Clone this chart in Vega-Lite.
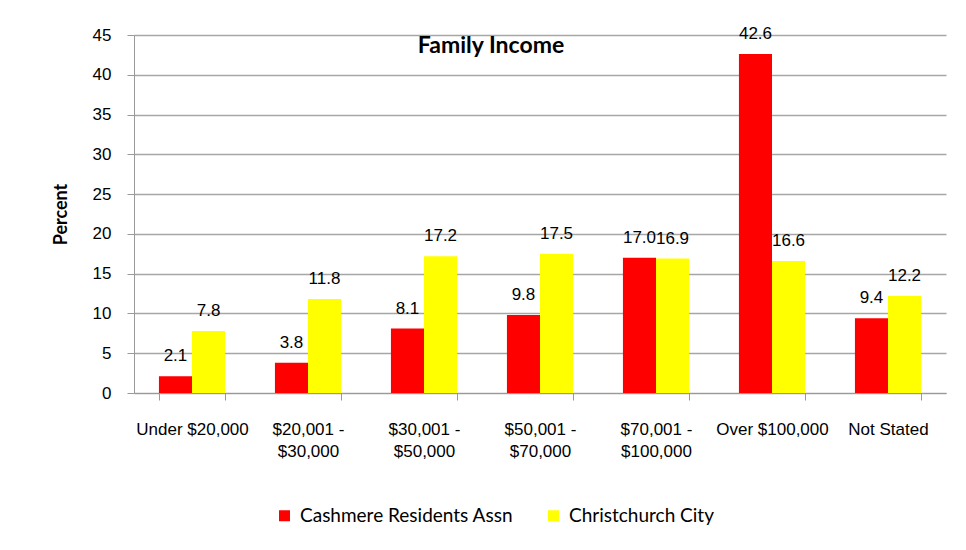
{
  "$schema": "https://vega.github.io/schema/vega-lite/v6.json",
  "width": 812,
  "height": 358,
  "autosize": {"type": "none"},
  "padding": {"left": 134, "top": 35, "right": 20, "bottom": 157},
  "background": "white",
  "title": {
    "text": "Family Income",
    "font": "Lato",
    "fontSize": 23,
    "fontWeight": "bold",
    "color": "black",
    "anchor": "middle",
    "dx": -49,
    "offset": -33
  },
  "data": {
    "values": [
      {"category": "Under $20,000", "series": "Cashmere Residents Assn", "value": 2.1},
      {"category": "Under $20,000", "series": "Christchurch City", "value": 7.8},
      {"category": "$20,001 - $30,000", "series": "Cashmere Residents Assn", "value": 3.8},
      {"category": "$20,001 - $30,000", "series": "Christchurch City", "value": 11.8},
      {"category": "$30,001 - $50,000", "series": "Cashmere Residents Assn", "value": 8.1},
      {"category": "$30,001 - $50,000", "series": "Christchurch City", "value": 17.2},
      {"category": "$50,001 - $70,000", "series": "Cashmere Residents Assn", "value": 9.8},
      {"category": "$50,001 - $70,000", "series": "Christchurch City", "value": 17.5},
      {"category": "$70,001 - $100,000", "series": "Cashmere Residents Assn", "value": 17.0},
      {"category": "$70,001 - $100,000", "series": "Christchurch City", "value": 16.9},
      {"category": "Over $100,000", "series": "Cashmere Residents Assn", "value": 42.6},
      {"category": "Over $100,000", "series": "Christchurch City", "value": 16.6},
      {"category": "Not Stated", "series": "Cashmere Residents Assn", "value": 9.4},
      {"category": "Not Stated", "series": "Christchurch City", "value": 12.2}
    ]
  },
  "encoding": {
    "x": {
      "field": "category",
      "type": "nominal",
      "sort": null,
      "scale": {"paddingInner": 0.43, "paddingOuter": 0.215},
      "axis": {
        "title": null,
        "labelAngle": 0,
        "labelFont": "Liberation Sans",
        "labelFontSize": 17,
        "labelColor": "black",
        "labelPadding": 21,
        "labelLineHeight": 22,
        "labelBaseline": "top",
        "labelExpr": "split(replace(datum.label, ' - ', ' -\\n'), '\\n')",
        "tickBand": "extent",
        "tickSize": 7,
        "tickColor": "#999999",
        "domainColor": "#999999",
        "grid": false
      }
    },
    "xOffset": {"field": "series", "type": "nominal", "sort": null},
    "y": {
      "field": "value",
      "type": "quantitative",
      "scale": {"domain": [0, 45], "nice": false},
      "axis": {
        "title": "Percent",
        "titleFont": "Lato",
        "titleFontSize": 18,
        "titleFontWeight": "bold",
        "titleColor": "black",
        "titlePadding": 22,
        "values": [0, 5, 10, 15, 20, 25, 30, 35, 40, 45],
        "labelFont": "Liberation Sans",
        "labelFontSize": 17,
        "labelColor": "black",
        "labelPadding": 16,
        "tickSize": 7,
        "tickColor": "#999999",
        "domainColor": "#999999",
        "gridColor": "#a6a6a6",
        "gridWidth": 1.3
      }
    }
  },
  "layer": [
    {
      "mark": {"type": "bar"},
      "encoding": {
        "color": {
          "field": "series",
          "type": "nominal",
          "sort": null,
          "scale": {"domain": ["Cashmere Residents Assn", "Christchurch City"], "range": ["#ff0000", "#ffff00"]},
          "legend": {
            "title": null,
            "orient": "none",
            "direction": "horizontal",
            "legendX": 141,
            "legendY": 471,
            "symbolType": "square",
            "symbolSize": 121,
            "symbolStrokeWidth": 0,
            "labelFont": "Lato",
            "labelFontSize": 19,
            "labelColor": "black",
            "labelOffset": 6,
            "labelLimit": 400,
            "columnPadding": 30
          }
        }
      }
    },
    {
      "mark": {"type": "text", "baseline": "alphabetic", "dy": -15, "font": "Liberation Sans", "fontSize": 17, "color": "black"},
      "encoding": {
        "text": {"field": "value", "type": "quantitative", "format": ".1f"}
      }
    }
  ],
  "config": {
    "view": {"stroke": null}
  }
}
